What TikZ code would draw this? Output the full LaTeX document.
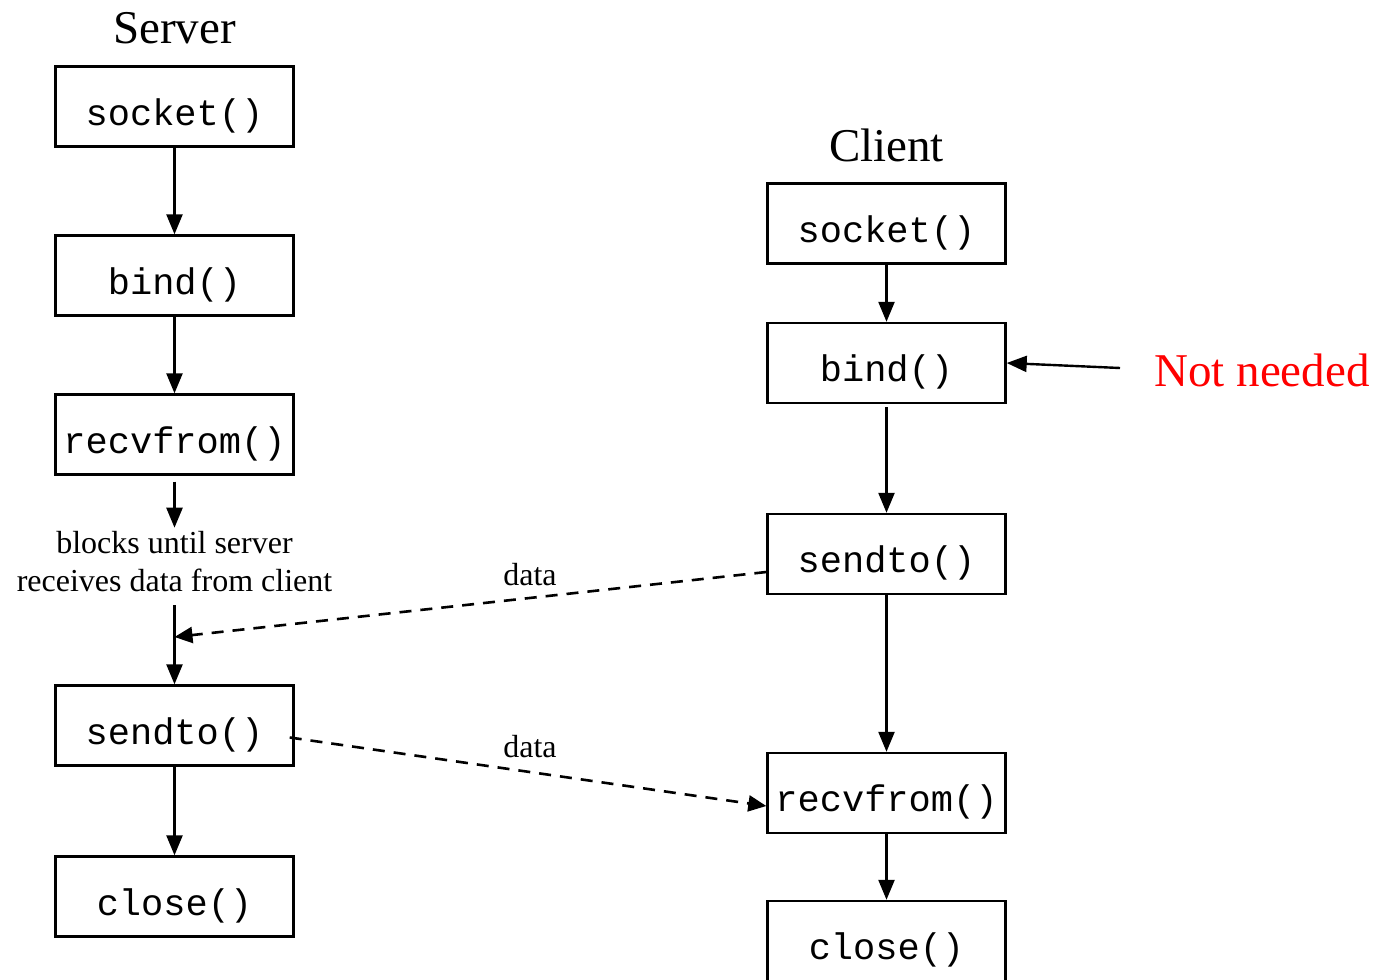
\documentclass[tikz,border=0pt]{standalone}
\usepackage{fontspec}
\setmainfont{Liberation Serif}
\setmonofont{Liberation Mono}
\usetikzlibrary{arrows.meta}
\tikzset{
  fnbox/.style={draw, line width=2.4pt, minimum width=238pt, minimum height=80pt,
    inner sep=0pt, text height=37pt, text depth=0pt,
    font=\ttfamily\fontsize{37}{40}\selectfont},
  title/.style={font=\fontsize{47}{50}\selectfont, inner sep=0pt},
  note/.style={font=\fontsize{32}{38}\selectfont, align=center},
  lbl/.style={font=\fontsize{32}{38}\selectfont, inner sep=0pt},
  arr/.style={line width=2.4pt, -{Triangle[length=20pt,width=16pt]}},
  darr/.style={line width=2.6pt, dash pattern=on 12pt off 9pt, -{Triangle[length=18pt,width=16pt]}}
}
\begin{document}
\begin{tikzpicture}[x=1pt,y=-1pt]
\useasboundingbox (0,0) rectangle (1387,980);
% titles
\node[title, anchor=base] (srvtitle) at (174.5,43) {Server};
\node[title, anchor=base] (clititle) at (886.5,161) {Client};
\node[title, anchor=base, text=red] (notneeded) at (1262,386) {Not needed};
% server boxes
\node[fnbox] (ssock) at (174.5,106.5) {socket()};
\node[fnbox] (sbind) at (174.5,275.5) {bind()};
\node[fnbox] (srecv) at (174.5,434.5) {recvfrom()};
\node[fnbox] (ssend) at (174.5,725.5) {sendto()};
\node[fnbox] (sclose) at (174.5,896.5) {close()};
% client boxes
\node[fnbox] (csock) at (886.5,223.5) {socket()};
\node[fnbox] (cbind) at (886.5,363) {bind()};
\node[fnbox] (csend) at (886.5,554) {sendto()};
\node[fnbox] (crecv) at (886.5,793) {recvfrom()};
\node[fnbox] (cclose) at (886.5,941) {close()};
% blocking note
\node[note] (blk) at (174.5,561.5) {blocks until server\\receives data from client};
% data labels
\node[lbl, anchor=base] (data1) at (530,585) {data};
\node[lbl, anchor=base] (data2) at (530,757) {data};
% server connectors
\draw[arr] (ssock) -- (sbind);
\draw[arr] (sbind) -- (srecv);
\draw[arr] ([yshift=-6pt]srecv.south) -- (blk.north);
\coordinate (meet) at (174.5,637);
\draw[arr] ([yshift=-10pt]blk.south) -- (ssend.north);
\draw[arr] (ssend) -- (sclose);
% client connectors
\draw[arr] (csock) -- (cbind);
\draw[arr] ([yshift=-3pt]cbind.south) -- (csend.north);
\draw[arr] (csend) -- (crecv);
\draw[arr] (crecv) -- (cclose);
% not needed
\coordinate (nnstart) at (1120,368);
\draw[arr] (nnstart) -- (cbind.east);
% data flows
\draw[darr] ([yshift=-18pt]csend.west) -- (meet);
\draw[darr] ([xshift=-5pt,yshift=-12pt]ssend.east) -- ([yshift=-13pt]crecv.west);
\end{tikzpicture}
\end{document}
